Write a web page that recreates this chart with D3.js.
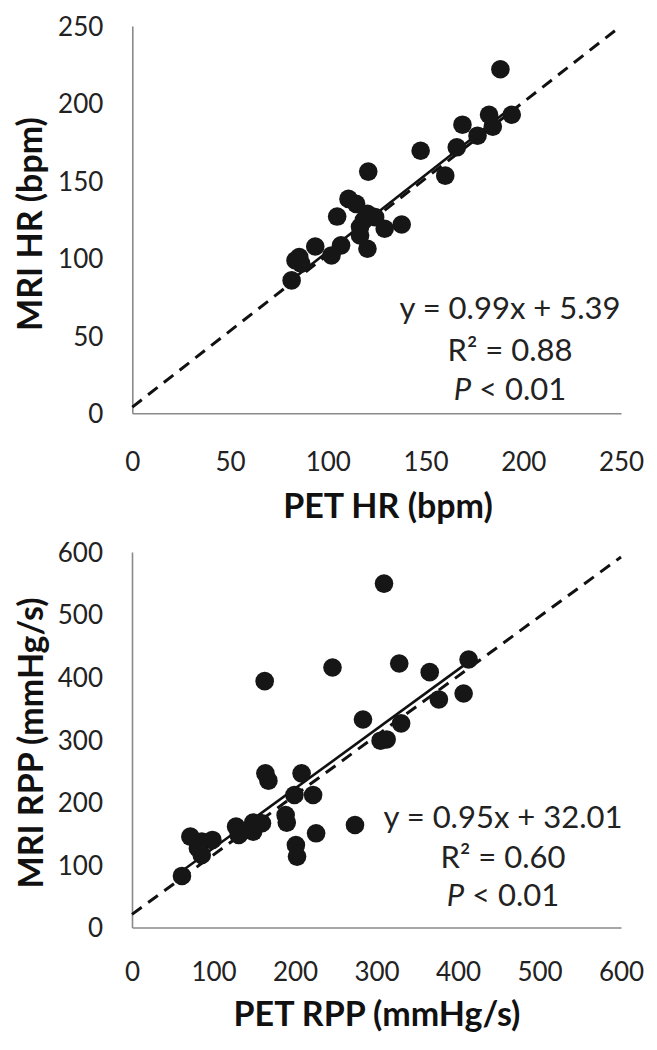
<!DOCTYPE html>
<html>
<head>
<meta charset="utf-8">
<script src="https://cdn.jsdelivr.net/npm/d3@7"></script>
<style>
  html, body { margin: 0; padding: 0; background: #fff; }
  svg { display: block; }
</style>
</head>
<body>
<svg id="chart" width="657" height="1050"></svg>
<script>
// ---------- DATA ----------
// Top panel: heart rate (bpm)
const hrPET = [188.3, 194.1, 182.5, 184.4, 168.9, 176.6, 166.0, 147.5, 160.1, 120.7,
               110.6, 114.5, 104.8, 120.3, 118.4, 124.2, 137.8, 129.1, 116.5, 120.3,
               106.8, 101.9, 93.6, 83.5, 86.4, 81.5, 116.5, 85.4];
const hrMRI = [222.1, 192.7, 192.7, 185.0, 186.3, 179.2, 171.7, 169.5, 153.4, 156.0,
               138.4, 135.2, 127.0, 128.8, 124.5, 126.6, 121.9, 119.1, 114.8, 106.2,
               108.4, 101.9, 107.7, 98.7, 96.6, 85.8, 120.2, 100.9];
const hrTicks = [0, 50, 100, 150, 200, 250];
const hrFit = { slope: 0.99, intercept: 5.39 };
const hrRefLine = [[0, 4], [250, 250]];
const hrLabels = ["y = 0.99x + 5.39", "R\u00B2 = 0.88", "< 0.01"];

// Bottom panel: rate pressure product (mmHg/s)
const rppPET = [309.2, 162.8, 246.0, 327.9, 365.3, 413.0, 376.5, 406.9, 283.4, 330.2,
                312.4, 305.0, 163.7, 167.4, 208.1, 199.3, 222.2, 188.5, 189.9, 225.9,
                273.6, 201.1, 202.5, 127.7, 131.0, 148.7, 148.7, 159.5, 71.6, 85.6,
                98.7, 85.6, 61.3, 80.9];
const rppMRI = [549.5, 393.6, 415.4, 421.8, 408.0, 428.2, 364.4, 373.9, 332.4, 326.1,
                300.5, 298.5, 246.3, 234.6, 246.3, 211.7, 211.7, 179.8, 167.6, 150.5,
                163.8, 131.9, 113.3, 161.2, 147.9, 167.6, 153.2, 166.5, 145.2, 137.2,
                139.9, 116.0, 82.4, 126.6];
const rppTicks = [0, 100, 200, 300, 400, 500, 600];
const rppFit = { slope: 0.95, intercept: 32.01 };
const rppRefLine = [[0, 21], [600, 592]];
const rppLabels = ["y = 0.95x + 32.01", "R\u00B2 = 0.60", "< 0.01"];

// ---------- DRAW ----------
const svg = d3.select("#chart");
const FONT = "Lato, 'Open Sans', sans-serif";

const defs = svg.append("defs");
defs.append("filter").attr("id", "soft")
  .append("feGaussianBlur").attr("stdDeviation", 0.6);

function panel(cfg) {
  const x = d3.scaleLinear().domain(cfg.domain).range(cfg.xRange);
  const y = d3.scaleLinear().domain(cfg.domain).range(cfg.yRange);
  const g = svg.append("g");

  // x axis
  const xa = g.append("g")
    .attr("transform", `translate(0,${cfg.yRange[0]})`)
    .call(d3.axisBottom(x).tickValues(cfg.ticks).tickSize(0).tickPadding(0));
  xa.select(".domain").attr("stroke", "#8a8a8a").attr("stroke-width", 1.6);
  xa.selectAll("text")
    .attr("y", cfg.xLabelBase - cfg.yRange[0]).attr("dy", 0)
    .attr("font-family", FONT).attr("font-size", 26).attr("fill", "#222");

  // y axis
  const ya = g.append("g")
    .attr("transform", `translate(${cfg.xRange[0]},0)`)
    .call(d3.axisLeft(y).tickValues(cfg.ticks).tickSize(0).tickPadding(29));
  ya.select(".domain").attr("stroke", "#8a8a8a").attr("stroke-width", 1.6);
  ya.selectAll("text")
    .attr("dy", "0.36em")
    .attr("font-family", FONT).attr("font-size", 26).attr("fill", "#222");

  // reference (dashed) line
  const line = d3.line().x(d => x(d[0])).y(d => y(d[1]));
  g.append("path").datum(cfg.ref)
    .attr("d", line).attr("fill", "none")
    .attr("stroke", "#111").attr("stroke-width", 3)
    .attr("stroke-dasharray", "12,8");

  // regression (solid) line over data range
  const ext = d3.extent(cfg.xs);
  const fitPts = ext.map(v => [v, cfg.fit.slope * v + cfg.fit.intercept]);
  g.append("path").datum(fitPts)
    .attr("d", line).attr("fill", "none")
    .attr("stroke", "#111").attr("stroke-width", 2.6);

  // points
  g.append("g").attr("filter", "url(#soft)")
    .selectAll("circle")
    .data(cfg.xs.map((v, i) => [v, cfg.ys[i]]))
    .join("circle")
    .attr("cx", d => x(d[0])).attr("cy", d => y(d[1]))
    .attr("r", 9.3).attr("fill", "#141414");

  // stats text
  const t = g.append("g").attr("font-family", FONT).attr("font-size", 31)
    .attr("fill", "#222").attr("text-anchor", "middle");
  t.append("text").attr("x", cfg.statX).attr("y", cfg.statY[0]).text(cfg.labels[0]);
  t.append("text").attr("x", cfg.statX).attr("y", cfg.statY[1]).text(cfg.labels[1]);
  const p = t.append("text").attr("x", cfg.statX).attr("y", cfg.statY[2]);
  p.append("tspan").attr("font-style", "italic").text("P");
  p.append("tspan").text(" " + cfg.labels[2]);

  // axis titles
  g.append("text")
    .attr("x", cfg.xTitleX).attr("y", cfg.xTitleBase)
    .attr("text-anchor", "middle")
    .attr("font-family", FONT).attr("font-weight", "bold").attr("font-size", 34)
    .attr("fill", "#111").text(cfg.xTitle);
  g.append("text")
    .attr("transform", `translate(${cfg.yTitleBase},${cfg.yTitleY}) rotate(-90)`)
    .attr("text-anchor", "middle")
    .attr("font-family", FONT).attr("font-weight", "bold").attr("font-size", 34)
    .attr("fill", "#111").text(cfg.yTitle);
}

panel({
  domain: [0, 250], xRange: [132.3, 621], yRange: [413.3, 26],
  ticks: hrTicks, xs: hrPET, ys: hrMRI, fit: hrFit, ref: hrRefLine,
  labels: hrLabels, statX: 510, statY: [318.5, 361, 400],
  xLabelBase: 471.5, xTitle: "PET HR (bpm)", xTitleX: 388, xTitleBase: 518,
  yTitle: "MRI HR (bpm)", yTitleBase: 42, yTitleY: 224
});

panel({
  domain: [0, 600], xRange: [132, 621], yRange: [927.5, 552],
  ticks: rppTicks, xs: rppPET, ys: rppMRI, fit: rppFit, ref: rppRefLine,
  labels: rppLabels, statX: 503, statY: [828, 868, 906],
  xLabelBase: 981, xTitle: "PET RPP (mmHg/s)", xTitleX: 377, xTitleBase: 1026,
  yTitle: "MRI RPP (mmHg/s)", yTitleBase: 43, yTitleY: 743
});
</script>
</body>
</html>
